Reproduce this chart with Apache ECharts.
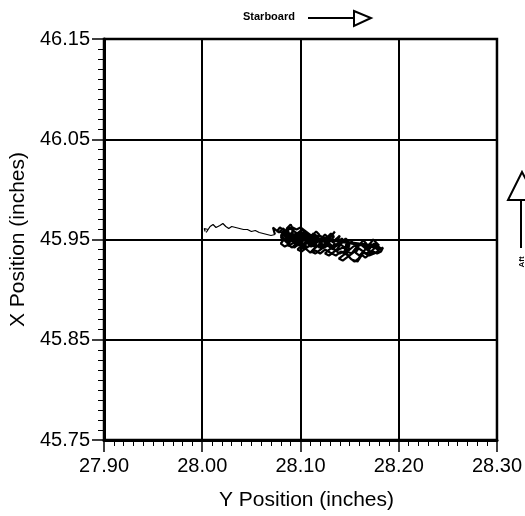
<!DOCTYPE html>
<html>
<head>
<meta charset="utf-8">
<script src="https://cdn.jsdelivr.net/npm/echarts@6/dist/echarts.min.js"></script>
<style>
html,body{margin:0;padding:0;background:#fff;}
#chart{width:525px;height:516px;}
</style>
</head>
<body>
<div id="chart"></div>
<script>
// Axis ranges and tick labels
var xMin = 27.90, xMax = 28.30;
var yMin = 45.75, yMax = 46.15;
var xTickLabels = ['27.90', '28.00', '28.10', '28.20', '28.30'];
var yTickLabels = ['45.75', '45.85', '45.95', '46.05', '46.15'];

// Lead-in path: Y position (inches) / X position (inches)
var leadY = [
  28.003, 28.002, 28.006, 28.004, 28.008, 28.011, 28.014, 28.018, 28.021, 28.024,
  28.027, 28.030, 28.034, 28.038, 28.042, 28.046, 28.050, 28.054, 28.058, 28.062,
  28.066, 28.070, 28.074
];
var leadX = [
  45.958, 45.961, 45.960, 45.957, 45.963, 45.965, 45.962, 45.964, 45.966, 45.963,
  45.961, 45.963, 45.962, 45.961, 45.960, 45.960, 45.958, 45.959, 45.957, 45.956,
  45.955, 45.954, 45.955
];

// Cluster, first pass
var clusterY = [
  28.074, 28.072, 28.078, 28.082, 28.086, 28.080, 28.085, 28.090,
  28.093, 28.088, 28.095, 28.098, 28.092, 28.087, 28.094, 28.100, 28.104, 28.099,
  28.105, 28.110, 28.106, 28.101, 28.108, 28.114, 28.118, 28.112, 28.116, 28.122,
  28.118, 28.124, 28.128, 28.132, 28.135, 28.127, 28.133, 28.138, 28.142, 28.146,
  28.150, 28.145, 28.152, 28.156, 28.160, 28.164, 28.168, 28.172, 28.176, 28.180,
  28.175, 28.170, 28.164, 28.158, 28.152, 28.147, 28.141, 28.136, 28.130, 28.125,
  28.120, 28.115, 28.110, 28.105, 28.100, 28.096, 28.091, 28.086, 28.090, 28.096,
  28.103, 28.108, 28.113, 28.119, 28.125, 28.130, 28.136, 28.140, 28.134, 28.128,
  28.122, 28.116, 28.110, 28.104, 28.098, 28.093, 28.097, 28.103, 28.109, 28.115,
  28.121, 28.126, 28.131, 28.137, 28.143, 28.149, 28.155, 28.161, 28.167, 28.173,
  28.178, 28.182
];
var clusterX = [
  45.955, 45.962, 45.957, 45.961, 45.958, 45.952, 45.948, 45.955,
  45.960, 45.962, 45.957, 45.951, 45.946, 45.944, 45.942, 45.947, 45.953, 45.958,
  45.956, 45.951, 45.946, 45.941, 45.943, 45.948, 45.953, 45.956, 45.951, 45.947,
  45.942, 45.945, 45.950, 45.954, 45.958, 45.948, 45.943, 45.946, 45.951, 45.947,
  45.944, 45.939, 45.936, 45.941, 45.946, 45.943, 45.940, 45.944, 45.942, 45.939,
  45.936, 45.934, 45.937, 45.928, 45.930, 45.935, 45.938, 45.934, 45.937, 45.940,
  45.936, 45.939, 45.937, 45.941, 45.944, 45.949, 45.953, 45.955, 45.950, 45.946,
  45.950, 45.955, 45.952, 45.949, 45.952, 45.948, 45.950, 45.946, 45.942, 45.944,
  45.941, 45.944, 45.947, 45.949, 45.953, 45.950, 45.945, 45.944, 45.950, 45.946,
  45.950, 45.946, 45.941, 45.939, 45.942, 45.939, 45.944, 45.940, 45.936, 45.939,
  45.944, 45.941
];
// Cluster, second pass
var clusterY2 = [
  28.076, 28.079, 28.083, 28.081, 28.085, 28.088, 28.086, 28.090, 28.093, 28.091,
  28.095, 28.092, 28.089, 28.086, 28.083, 28.080, 28.084, 28.088, 28.091, 28.095,
  28.098, 28.101, 28.098, 28.102, 28.105, 28.103, 28.107, 28.104, 28.100, 28.097,
  28.101, 28.105, 28.109, 28.112, 28.109, 28.113, 28.116, 28.119, 28.117, 28.121,
  28.118, 28.114, 28.111, 28.115, 28.119, 28.123, 28.126, 28.124, 28.128, 28.131,
  28.134, 28.131, 28.135, 28.132, 28.128, 28.125, 28.129, 28.133, 28.137, 28.140,
  28.143, 28.146, 28.149, 28.146, 28.150, 28.147, 28.143, 28.139, 28.143, 28.147,
  28.151, 28.155, 28.158, 28.161, 28.164, 28.167, 28.165, 28.169, 28.172, 28.175,
  28.178, 28.181, 28.184, 28.182, 28.178, 28.174, 28.170, 28.166, 28.162, 28.159,
  28.155, 28.151, 28.148, 28.144, 28.140, 28.136, 28.132, 28.128, 28.124, 28.120,
  28.116, 28.112, 28.108, 28.104, 28.100, 28.096, 28.092, 28.088, 28.084, 28.080,
  28.083, 28.087, 28.090, 28.094, 28.097, 28.101, 28.104, 28.108, 28.111, 28.115,
  28.118, 28.122, 28.125, 28.129, 28.133, 28.137, 28.140, 28.138, 28.141, 28.145,
  28.148, 28.152, 28.156, 28.159, 28.156, 28.160, 28.164, 28.168, 28.171, 28.174,
  28.177, 28.180
];
var clusterX2 = [
  45.958, 45.962, 45.959, 45.955, 45.953, 45.957, 45.961, 45.965, 45.959, 45.955,
  45.952, 45.948, 45.951, 45.947, 45.950, 45.946, 45.943, 45.945, 45.942, 45.945,
  45.949, 45.953, 45.957, 45.960, 45.957, 45.953, 45.950, 45.946, 45.943, 45.940,
  45.938, 45.941, 45.944, 45.948, 45.952, 45.955, 45.958, 45.955, 45.951, 45.948,
  45.944, 45.941, 45.938, 45.936, 45.939, 45.942, 45.946, 45.950, 45.953, 45.956,
  45.953, 45.949, 45.946, 45.942, 45.939, 45.936, 45.934, 45.937, 45.940, 45.944,
  45.948, 45.951, 45.948, 45.944, 45.941, 45.937, 45.934, 45.931, 45.929, 45.932,
  45.935, 45.938, 45.942, 45.946, 45.949, 45.946, 45.942, 45.939, 45.943, 45.946,
  45.943, 45.940, 45.942, 45.938, 45.936, 45.938, 45.935, 45.932, 45.935, 45.931,
  45.928, 45.931, 45.935, 45.938, 45.936, 45.939, 45.943, 45.946, 45.944, 45.947,
  45.950, 45.953, 45.956, 45.959, 45.962, 45.960, 45.962, 45.960, 45.957, 45.954,
  45.951, 45.953, 45.950, 45.947, 45.944, 45.947, 45.950, 45.947, 45.943, 45.945,
  45.949, 45.952, 45.955, 45.951, 45.948, 45.951, 45.954, 45.949, 45.945, 45.942,
  45.945, 45.948, 45.945, 45.941, 45.937, 45.934, 45.938, 45.942, 45.946, 45.950,
  45.947, 45.944
];
// Cluster, third pass (dense core)
var clusterY3 = [
  28.180, 28.160, 28.130, 28.082, 28.086, 28.089, 28.093, 28.096, 28.099, 28.102,
  28.106, 28.109, 28.112, 28.115, 28.118, 28.121, 28.118, 28.114, 28.110, 28.107,
  28.103, 28.099, 28.095, 28.091, 28.087, 28.084, 28.088, 28.092, 28.096, 28.100,
  28.104, 28.108, 28.112, 28.116, 28.120, 28.124, 28.127, 28.123, 28.119, 28.115,
  28.111, 28.107, 28.103, 28.099, 28.095, 28.091
];
var clusterX3 = [
  45.944, 45.946, 45.950, 45.955, 45.952, 45.956, 45.953, 45.957, 45.954, 45.950,
  45.953, 45.949, 45.952, 45.948, 45.951, 45.946, 45.943, 45.946, 45.943, 45.947,
  45.944, 45.948, 45.945, 45.949, 45.946, 45.950, 45.954, 45.951, 45.955, 45.951,
  45.955, 45.951, 45.955, 45.951, 45.954, 45.950, 45.946, 45.942, 45.945, 45.942,
  45.946, 45.942, 45.946, 45.949, 45.952, 45.957
];

var FONT = 'Liberation Sans, Arial, sans-serif';
function toData(ys, xs) {
  return ys.map(function (v, i) {
    return [+(v - xMin).toFixed(4), +(xs[i] - yMin).toFixed(4)];
  });
}
var leadData = toData(leadY, leadX);
var clusterData = toData(clusterY.concat(clusterY2, clusterY3), clusterX.concat(clusterX2, clusterX3));

var chart = echarts.init(document.getElementById('chart'), null, {renderer: 'canvas'});
var grid = {left: 104, top: 39, width: 395, height: 402};

function axisCommon(labels, margin) {
  return {
    type: 'value',
    min: 0,
    max: +((labels.length - 1) * 0.1).toFixed(1),
    interval: 0.1,
    axisLine: {show: true, lineStyle: {color: '#000', width: 3}},
    axisTick: {show: true, inside: false, length: 12, lineStyle: {color: '#000', width: 1.5}},
    minorTick: {show: true, splitNumber: 10, length: 6, lineStyle: {color: '#000', width: 1}},
    splitLine: {show: true, lineStyle: {color: '#000', width: 2}},
    minorSplitLine: {show: false},
    axisLabel: {
      color: '#000', fontFamily: FONT, fontSize: 20, margin: margin,
      formatter: function (v) {
        var idx = Math.round(v / 0.1);
        return labels[idx] || '';
      }
    },
    nameLocation: 'middle',
    nameTextStyle: {color: '#000', fontFamily: FONT, fontSize: 21}
  };
}

var xAxis = axisCommon(xTickLabels, 16);
xAxis.name = 'Y Position (inches)';
xAxis.nameGap = 50;
xAxis.nameTextStyle.padding = [0, 0, 0, 12];
var yAxis = axisCommon(yTickLabels, 14);
yAxis.name = 'X Position (inches)';
yAxis.nameGap = 75;

chart.setOption({
  animation: false,
  backgroundColor: '#fff',
  grid: Object.assign({show: true, borderColor: '#000', borderWidth: 2.5, backgroundColor: 'transparent'}, grid),
  xAxis: xAxis,
  yAxis: yAxis,
  series: [{
    type: 'line',
    data: leadData,
    showSymbol: false,
    lineStyle: {color: '#000', width: 1.2},
    z: 5
  }, {
    type: 'line',
    data: clusterData,
    showSymbol: false,
    lineStyle: {color: '#000', width: 2.2},
    z: 5
  }],
  graphic: [
    {type: 'text', left: 243, top: 11, style: {text: 'Starboard', fill: '#000', font: 'bold 11px ' + FONT}},
    {type: 'line', shape: {x1: 308, y1: 18, x2: 354, y2: 18}, style: {stroke: '#000', lineWidth: 2}},
    {type: 'polygon', shape: {points: [[354, 11], [371, 18], [354, 26]]}, style: {fill: '#fff', stroke: '#000', lineWidth: 2}},
    {type: 'polygon', shape: {points: [[522, 172], [508, 200], [537, 200]]}, style: {fill: '#fff', stroke: '#000', lineWidth: 2}},
    {type: 'line', shape: {x1: 521, y1: 200, x2: 521, y2: 248}, style: {stroke: '#000', lineWidth: 2}},
    {type: 'text', x: 522, y: 262, rotation: Math.PI / 2, style: {text: 'Aft', fill: '#000', font: 'bold 8px ' + FONT, align: 'center', verticalAlign: 'middle'}}
  ]
});
</script>
</body>
</html>
